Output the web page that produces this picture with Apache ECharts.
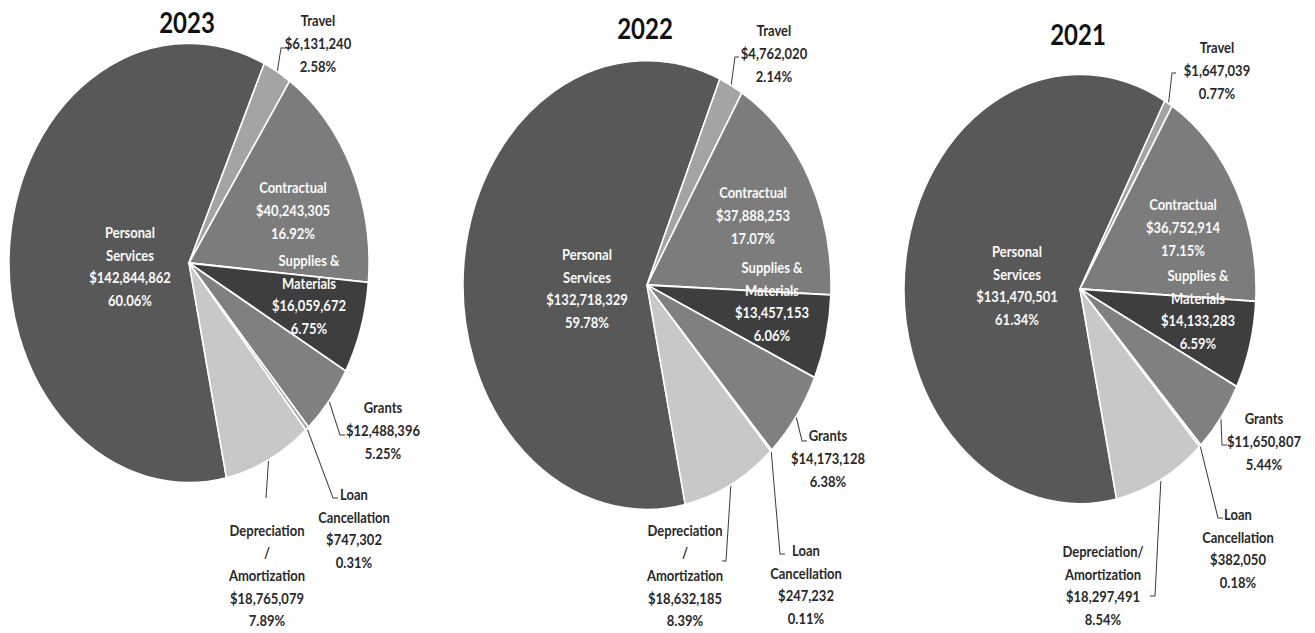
<!DOCTYPE html>
<html>
<head>
<meta charset="UTF-8">
<title>Expenses by category 2021-2023</title>
<script src="https://cdn.jsdelivr.net/npm/echarts@6/dist/echarts.min.js"></script>
<style>
html{overflow:hidden;}
html,body{margin:0;padding:0;background:#fff;}
body{width:1315px;height:633px;}
/* the source picture is stretched vertically, so the whole chart is too */
#chart{width:1315px;height:519px;transform:scaleY(1.22);transform-origin:0 0;}
</style>
</head>
<body>
<div id="chart"></div>
<script>
var years = ['2023', '2022', '2021'];
var categories = ['Personal Services', 'Travel', 'Contractual', 'Supplies & Materials', 'Grants', 'Loan Cancellation', 'Depreciation/Amortization'];

var values2023 = [142844862, 6131240, 40243305, 16059672, 12488396, 747302, 18765079];
var values2022 = [132718329, 4762020, 37888253, 13457153, 14173128, 247232, 18632185];
var values2021 = [131470501, 1647039, 36752914, 14133283, 11650807, 382050, 18297491];

// percentages as printed on the chart
var pct2023 = ['60.06%', '2.58%', '16.92%', '6.75%', '5.25%', '0.31%', '7.89%'];
var pct2022 = ['59.78%', '2.14%', '17.07%', '6.06%', '6.38%', '0.11%', '8.39%'];
var pct2021 = ['61.34%', '0.77%', '17.15%', '6.59%', '5.44%', '0.18%', '8.54%'];

// label text, broken over lines as in the picture
var names2023 = ['Personal\nServices', 'Travel', 'Contractual', 'Supplies &\nMaterials', 'Grants', 'Loan\nCancellation', 'Depreciation\n/\nAmortization'];
var names2022 = names2023;
var names2021 = ['Personal\nServices', 'Travel', 'Contractual', 'Supplies &\nMaterials', 'Grants', 'Loan\nCancellation', 'Depreciation/\nAmortization'];

// ---- styling / layout ----
var S = 1.22; // vertical stretch
var colors = ['#585858', '#a4a4a4', '#7c7c7c', '#3e3e3e', '#808080', '#a9a9a9', '#c8c8c8'];
var inside = [true, false, true, true, false, false, false];
var font = 'Lato, "Open Sans", sans-serif';

// pie centre / radius in picture pixels
var pies = [
  { c: [189, 263], r: 180 },
  { c: [647, 285], r: 184 },
  { c: [1080, 289], r: 176 }
];
var titleY = [22, 28, 34];

// label block centres in picture pixels
var spots = [
  [[130, 266], [318, 43], [293, 210], [309, 294], [383, 430], [354, 528], [267, 575]],
  [[587, 288], [774, 53], [753, 215], [772, 301], [828, 458], [806, 584], [685, 575]],
  [[1017, 285], [1217, 70], [1183, 227], [1198, 309], [1264, 441], [1238, 548], [1103, 585]]
];
// leader line bend and end points (picture pixels)
var leaders = [
  [null, [281, 48, 286, 48], null, null, [340, 435, 345, 435], [333, 498, 338, 498], [266, 498, 266, 498]],
  [null, [735, 57, 739, 57], null, null, [802, 441, 807, 441], [780, 554, 785, 554], [726, 561, 722, 561]],
  [null, [1172, 73, 1176, 73], null, null, [1222, 445, 1227, 445], [1218, 518, 1223, 518], [1155, 596, 1150, 596]]
];

var allValues = [values2023, values2022, values2021];
var allPct = [pct2023, pct2022, pct2021];
var allNames = [names2023, names2022, names2021];

function money(v) {
  return '$' + v.toLocaleString('en-US');
}

function makeLayout(k) {
  return function (p) {
    var spot = spots[k][p.dataIndex];
    var out = { x: spot[0], y: spot[1] / S, align: 'center', verticalAlign: 'middle' };
    var lead = leaders[k][p.dataIndex];
    if (lead && p.labelLinePoints) {
      out.labelLinePoints = [
        p.labelLinePoints[0],
        [lead[0], lead[1] / S],
        [lead[2], lead[3] / S]
      ];
    }
    return out;
  };
}

var series = [];
var titles = [];
for (var k = 0; k < 3; k++) {
  var data = categories.map(function (name, i) {
    var item = { name: name, value: allValues[k][i], itemStyle: { color: colors[i] } };
    if (inside[i]) {
      item.label = { position: 'inside', color: '#fafafa' };
    }
    return item;
  });
  series.push({
    type: 'pie',
    center: [pies[k].c[0], pies[k].c[1] / S],
    radius: pies[k].r,
    startAngle: -78,
    clockwise: true,
    avoidLabelOverlap: false,
    silent: true,
    animation: false,
    itemStyle: { borderColor: '#fff', borderWidth: 1.5 },
    label: {
      show: true,
      position: 'outside',
      fontFamily: font,
      fontWeight: 'bold',
      fontSize: 13,
      lineHeight: 18.5,
      color: '#2a2a2a',
      formatter: (function (kk) {
        return function (p) {
          return allNames[kk][p.dataIndex] + '\n' + money(allValues[kk][p.dataIndex]) + '\n' + allPct[kk][p.dataIndex];
        };
      })(k)
    },
    labelLine: { show: true, lineStyle: { color: '#3a3a3a', width: 1 } },
    labelLayout: makeLayout(k),
    data: data
  });
  titles.push({
    text: years[k],
    left: pies[k].c[0] - 2,
    top: titleY[k] / S - 14,
    textAlign: 'center',
    padding: 0,
    textStyle: { fontFamily: font, fontWeight: 'bold', fontSize: 24, lineHeight: 28, color: '#111' }
  });
}

var chart = echarts.init(document.getElementById('chart'), null, { renderer: 'svg' });
chart.setOption({
  backgroundColor: '#fff',
  animation: false,
  title: titles,
  series: series
});
</script>
</body>
</html>
